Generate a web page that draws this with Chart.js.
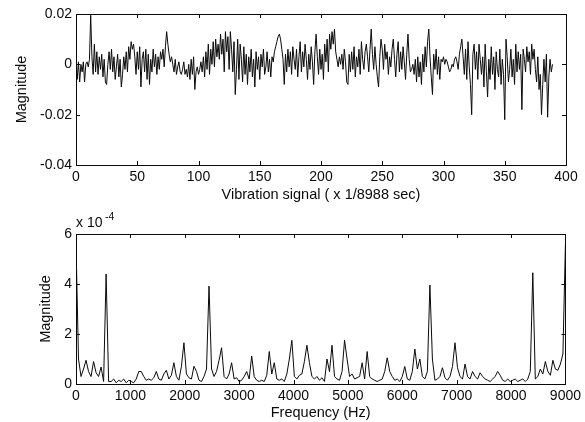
<!DOCTYPE html>
<html>
<head>
<meta charset="utf-8">
<script src="https://cdn.jsdelivr.net/npm/chart.js@4"></script>
<style>
  html, body { margin: 0; padding: 0; background: #fff; }
  #wrap { position: relative; width: 585px; height: 422px; }
  canvas { position: absolute; left: 0; }
  #top { top: 0; width: 585px; height: 210px; }
  #bottom { top: 210px; width: 585px; height: 212px; }
</style>
</head>
<body>
<div id="wrap">
  <canvas id="top" width="585" height="210"></canvas>
  <canvas id="bottom" width="585" height="212"></canvas>
</div>
<script>
// vibration signal, one value per sample, in units of 1e-3
const signalMilli = [
  4, -6, 1, -7, 0, -3, 1, -7, 0, 1,
  -1, 2, 19.5, 3, -4, 8, -3, 5, -4, 3,
  -2, 4, -5, 2, -7, -8, 0, 5, -2, 6,
  -3, 3, -6, -1, 4, -5, 2, -9, -4, 3,
  -2, 5, -3, 7, 2, 9, 6, 8, 3, -4,
  5, -2, 7, -9, 2, 5, -3, 6, -6, 4,
  -8, 2, -3, 6, -1, 4, -4, 3, -2, 5,
  2, 6, -1, 7, 13, 8, 4, 1, 3, 0,
  -3, 2, -4, -1, 1, -3, -4, -2, 1, -4,
  -2, -5, 0, -6, 2, -4, 3, -10, -3, -1,
  -4, -2, 1, -3, 3, -5, 5, -2, 8, -4,
  6, 0, 9, -1, 10, 3, 8, 2, 12, 4,
  10, -3, 13, 5, 11, -2, 13, 6, -3, 9,
  -12, -2, 10, -6, 8, 2, -7, 7, -4, 4,
  -8, 3, -3, 6, -5, 2, -9, 5, -2, 3,
  -6, 4, -1, 6, -4, -1, 5, -3, 2, -5,
  3, 1, 5, 7, 9, 11, 12, 10, 6, 2,
  -8, 4, -3, 6, -1, 5, -4, 7, 2, -2,
  6, -5, 3, 9, -3, 5, -1, 8, 2, -6,
  4, -2, 7, 1, -8, 5, 12, 3, -4, 6,
  -2, 4, -6, 8, 1, 10, -3, 12, 6, 13,
  8, 14, 5, 2, -1, 3, 0, 4, -2, 6,
  1, -7, -8, 4, -3, 5, -2, 7, -5, 3,
  -1, 6, -4, 9, 2, -2, 5, 8, 3, -3,
  6, 14, 4, -2, 7, 0, -5, -9, 3, 10,
  6, -2, 8, 2, 5, -4, 3, -1, 6, 10,
  2, -5, 4, 9, -3, 5, -2, 7, 1, -6,
  4, 12, 2, -3, -2, 0, -4, 2, -7, 3,
  -5, 1, -8, 4, -3, 7, -1, 9, 14, 3,
  -5, -12, 4, -2, 6, -4, 3, -6, 2, 1,
  3, 0, 2, 1, -1, -3, -2, 0, -1, 2,
  3, 1, -2, 4, 7, 10, 3, -4, 6, -6,
  9, -1, -8, -20, 4, 8, -2, 5, -6, 8,
  2, -4, 3, -9, 8, -3, -13, 2, -6, 7,
  -4, 3, -10, 5, -2, -5, 6, -8, 2, -4,
  -22, 10, 3, -7, -2, 6, -5, 2, -8, 8,
  -3, 5, -2, 4, -18, 6, 2, -3, 7, 1,
  5, -4, 8, 2, 6, -2, -7, 3, -10, -4,
  -20, -8, 2, -7, 4, -21, -5, 2, -3, 0
];

// FFT magnitude per bin, in units of 1e-4 (bins span 0..9000 Hz)
const spectrum = [
  5.6, 1.0, 0.3, 0.6, 0.95, 0.5, 0.3, 0.9, 0.45, 0.3,
  0.68, 0.1, 4.4, 0.1, 0.1, 0.2, 0.05, 0.15, 0.1, 0.2,
  0.05, 0.15, 0.1, 0.05, 0.2, 0.5, 0.5, 0.3, 0.15, 0.2,
  0.15, 0.25, 0.5, 0.2, 0.15, 0.4, 0.55, 0.2, 0.35, 0.85,
  0.3, 0.15, 0.7, 1.65, 0.4, 0.25, 0.2, 0.71, 0.5, 0.15,
  0.1, 0.3, 0.6, 3.92, 0.6, 0.3, 0.5, 0.95, 1.45, 0.3,
  0.2, 0.4, 0.85, 0.2, 0.25, 0.1, 0.15, 0.3, 0.5, 0.2,
  1.12, 0.3, 0.15, 0.1, 0.15, 0.1, 0.35, 1.3, 0.4, 0.85,
  0.2, 0.15, 0.2, 0.1, 0.4, 1.0, 1.75, 0.3, 0.2, 0.35,
  0.4, 0.9, 1.55, 0.85, 0.3, 0.2, 0.3, 0.15, 0.25, 0.1,
  1.0, 0.5, 1.55, 0.3, 0.2, 0.15, 0.5, 1.75, 1.0, 0.3,
  0.4, 0.2, 0.25, 0.3, 0.85, 0.2, 1.3, 0.3, 0.2, 0.15,
  0.1, 0.15, 0.2, 0.5, 1.05, 0.5, 0.3, 0.15, 0.2, 0.1,
  0.3, 0.7, 0.2, 0.15, 0.5, 1.4, 0.6, 1.0, 0.3, 0.2,
  0.5, 3.96, 1.0, 0.15, 0.2, 0.3, 0.65, 0.25, 0.15, 0.3,
  0.7, 1.65, 0.65, 0.3, 0.2, 0.8, 0.3, 0.2, 0.5, 0.3,
  0.2, 0.45, 0.3, 0.2, 0.15, 0.1, 0.2, 0.3, 0.5, 0.35,
  0.15, 0.1, 0.2, 0.1, 0.15, 0.2, 0.1, 0.15, 0.2, 0.1,
  0.2, 0.5, 4.45, 0.2, 0.3, 0.6, 0.4, 0.9, 0.5, 0.35,
  0.95, 0.6, 0.55, 0.8, 1.2, 5.6
];
const binHz = 9000 / (spectrum.length - 1);

const topXTicks = [0, 50, 100, 150, 200, 250, 300, 350, 400];
const topYTicks = [-0.04, -0.02, 0, 0.02];
const botXTicks = [0, 1000, 2000, 3000, 4000, 5000, 6000, 7000, 8000, 9000];
const botYTicks = [0, 2, 4, 6];

const tickFont = { family: '"Liberation Sans", Arial, sans-serif', size: 14 };
const titleFont = { family: '"Liberation Sans", Arial, sans-serif', size: 14.5 };
const ink = '#0a0a0a';

// matlab style box with inward ticks on all four sides
const matlabBox = {
  id: 'matlabBox',
  afterDraw(chart) {
    const { ctx, chartArea: a, scales: { x, y } } = chart;
    ctx.save();
    ctx.strokeStyle = ink;
    ctx.lineWidth = 1;
    ctx.strokeRect(Math.round(a.left) + 0.5, Math.round(a.top) + 0.5,
      Math.round(a.width), Math.round(a.height));
    ctx.beginPath();
    x.ticks.forEach(t => {
      const px = Math.round(x.getPixelForValue(t.value)) + 0.5;
      ctx.moveTo(px, a.bottom); ctx.lineTo(px, a.bottom - 4);
      ctx.moveTo(px, a.top); ctx.lineTo(px, a.top + 4);
    });
    y.ticks.forEach(t => {
      const py = Math.round(y.getPixelForValue(t.value)) + 0.5;
      ctx.moveTo(a.left, py); ctx.lineTo(a.left + 4, py);
      ctx.moveTo(a.right, py); ctx.lineTo(a.right - 4, py);
    });
    ctx.stroke();
    if (chart.options.exponent) {
      ctx.fillStyle = ink;
      ctx.textBaseline = 'alphabetic';
      ctx.font = '14px "Liberation Sans", Arial, sans-serif';
      ctx.fillText('x 10', a.left, a.top - 7);
      ctx.font = '10.5px "Liberation Sans", Arial, sans-serif';
      ctx.fillText(chart.options.exponent, a.left + 29, a.top - 14);
    }
    ctx.restore();
  }
};

const axis = (min, max, ticks, fmt, extra) => Object.assign({
  type: 'linear',
  min, max,
  grid: { display: false, drawTicks: false },
  border: { display: false },
  afterBuildTicks: s => { s.ticks = ticks.map(v => ({ value: v })); },
  ticks: { color: ink, font: tickFont, callback: fmt, autoSkip: false, maxRotation: 0, padding: 4 }
}, extra);

const fmtTop = v => (Math.abs(v) < 1e-9 ? '0' : String(+v.toFixed(2)));
const fmtInt = v => String(v);

new Chart(document.getElementById('top'), {
  type: 'line',
  data: {
    datasets: [{
      data: signalMilli.map((v, i) => ({ x: i, y: v / 1000 })),
      borderColor: ink,
      borderWidth: 1,
      pointRadius: 0,
      tension: 0
    }]
  },
  options: {
    responsive: false,
    animation: false,
    layout: { padding: { top: 14, right: 19, left: 0, bottom: 0 } },
    plugins: { legend: { display: false }, tooltip: { enabled: false } },
    scales: {
      x: axis(0, 400, topXTicks, fmtInt, {
        title: { display: true, text: 'Vibration signal ( x 1/8988 sec)', color: ink, font: titleFont, padding: { top: 0, bottom: 6 } },
        afterFit: s => { s.height = 45; }
      }),
      y: axis(-0.04, 0.02, topYTicks, fmtTop, {
        title: { display: true, text: 'Magnitude', color: ink, font: titleFont, padding: { top: 13, bottom: 0 } },
        afterFit: s => { s.width = 76; }
      })
    }
  },
  plugins: [matlabBox]
});

new Chart(document.getElementById('bottom'), {
  type: 'line',
  data: {
    datasets: [{
      data: spectrum.map((v, i) => ({ x: i * binHz, y: v })),
      borderColor: ink,
      borderWidth: 1,
      pointRadius: 0,
      tension: 0
    }]
  },
  options: {
    responsive: false,
    animation: false,
    exponent: '-4',
    layout: { padding: { top: 24, right: 19, left: 0, bottom: 0 } },
    plugins: { legend: { display: false }, tooltip: { enabled: false } },
    scales: {
      x: axis(0, 9000, botXTicks, fmtInt, {
        title: { display: true, text: 'Frequency (Hz)', color: ink, font: titleFont, padding: { top: 0, bottom: 0 } },
        afterFit: s => { s.height = 38; }
      }),
      y: axis(0, 6, botYTicks, fmtInt, {
        title: { display: true, text: 'Magnitude', color: ink, font: titleFont, padding: { top: 37, bottom: 0 } },
        afterFit: s => { s.width = 76; }
      })
    }
  },
  plugins: [matlabBox]
});
</script>
</body>
</html>
